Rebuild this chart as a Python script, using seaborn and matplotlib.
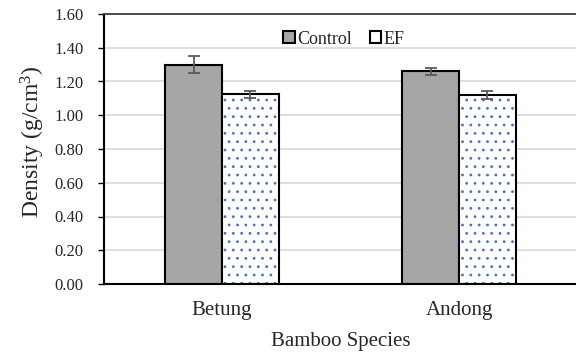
import pandas as pd
import matplotlib.pyplot as plt
import seaborn as sns
from matplotlib.patches import Rectangle, Patch

# Data

species = ["Betung", "Andong"]
treatments = ["Control", "EF"]
control_density = [1.30, 1.26]
ef_density = [1.125, 1.118]
control_err = [0.05, 0.02]
ef_err = [0.02, 0.023]

df = pd.DataFrame(
    {
        "species": species * 2,
        "treatment": ["Control"] * 2 + ["EF"] * 2,
        "density": control_density + ef_density,
    }
)

sns.set_style("white")
plt.rcParams["font.family"] = ["Liberation Serif", "DejaVu Serif"]
plt.rcParams["hatch.linewidth"] = 0.8

fig = plt.figure(figsize=(5.76, 3.53), dpi=100)
ax = fig.add_axes([103.5 / 576, 1 - 284 / 353, 474 / 576, 270 / 353])

sns.barplot(
    data=df,
    x="species",
    y="density",
    hue="treatment",
    palette={"Control": "#a6a6a6", "EF": "white"},
    width=0.48,
    errorbar=None,
    edgecolor="black",
    linewidth=1.5,
    legend=False,
    ax=ax,
    zorder=2,
)

# dotted fill for EF bars, black outline drawn on top
for bar in ax.containers[1]:
    bar.set_hatch("..")
    bar.set_edgecolor("#4472c4")
    bar.set_linewidth(0)
    ax.add_patch(
        Rectangle(
            bar.get_xy(), bar.get_width(), bar.get_height(),
            facecolor="none", edgecolor="black", linewidth=1.5, zorder=3,
        )
    )

# error bars
for cont, errs in zip(ax.containers, [control_err, ef_err]):
    xs = [b.get_x() + b.get_width() / 2 for b in cont]
    ys = [b.get_height() for b in cont]
    ax.errorbar(
        xs, ys, yerr=errs, fmt="none", ecolor="#595959",
        elinewidth=1.3, capsize=4.5, capthick=1.3, zorder=4,
    )

ax.set_xlim(-0.5, 1.5)
ax.set_ylim(0, 1.6)
ax.set_yticks([i * 0.2 for i in range(9)])
ax.set_yticklabels([f"{i * 0.2:.2f}" for i in range(9)], fontsize=12)
ax.set_xticks([0, 1])
ax.set_xticklabels(species, fontsize=15)
ax.set_xticks([-0.5, 0.5, 1.5], minor=True)
ax.tick_params(axis="x", which="major", length=0, pad=12)
ax.tick_params(axis="x", which="minor", length=5, width=1, direction="out", color="black")
ax.tick_params(axis="y", length=4.5, width=1, direction="out", left=True, color="black", pad=10)

ax.yaxis.grid(True, color="#d9d9d9", linewidth=1.2, zorder=0)
ax.set_axisbelow(True)
for s in ["left", "bottom"]:
    ax.spines[s].set_color("black")
    ax.spines[s].set_linewidth(1.5)
ax.spines["top"].set_color("#404040")
ax.spines["top"].set_linewidth(1.3)
ax.spines["right"].set_visible(False)

ax.set_xlabel("Bamboo Species", fontsize=15, labelpad=9)
ax.set_ylabel("Density (g/cm$\\mathregular{^3}$)", fontsize=17, labelpad=5)
ax.yaxis.label.set_y(0.525)

handles = [
    Patch(facecolor="#a6a6a6", edgecolor="black", linewidth=1.5, label="Control"),
    Patch(facecolor="white", edgecolor="black", linewidth=1.5, label="EF"),
]
ax.legend(
    handles=handles, loc="center", bbox_to_anchor=(0.507, 0.907),
    ncol=2, frameon=False, fontsize=13, handlelength=0.65, handleheight=0.65,
    handletextpad=0.1, columnspacing=1.0, borderaxespad=0,
)

fig.savefig("out.png", dpi=100)
